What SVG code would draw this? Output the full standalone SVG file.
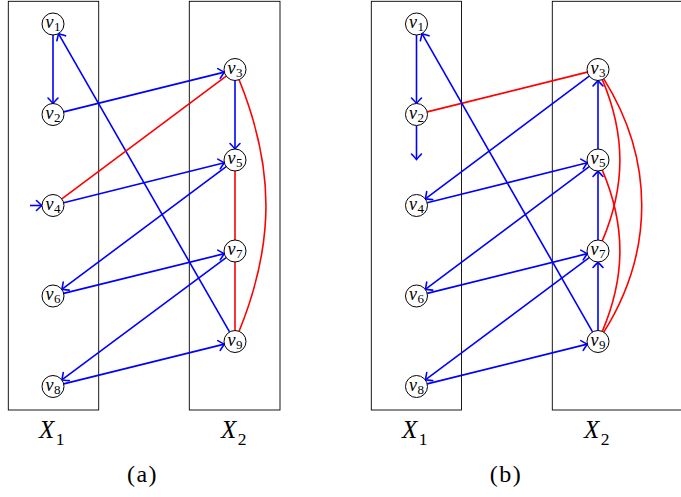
<svg xmlns="http://www.w3.org/2000/svg" width="681" height="497" viewBox="0 0 681 497">
<style>
.box{fill:none;stroke:#000;stroke-width:0.9}
.nd circle{fill:#fff;stroke:#000;stroke-width:1}
.nd text{font-family:"Liberation Serif",serif;font-style:italic;font-size:18px;text-anchor:middle;fill:#000}
.nd tspan{font-style:normal;font-size:13px}
.b{stroke:#00f;stroke-width:1.6;fill:none;marker-end:url(#ar)}
.r{stroke:#f00;stroke-width:1.6;fill:none}
.lbl{font-family:"Liberation Serif",serif;font-size:25px;font-style:italic;fill:#000}
.lbl tspan{font-style:normal;font-size:17.5px}
.cap{font-family:"Liberation Serif",serif;font-size:24px;text-anchor:middle;letter-spacing:1.5px;fill:#000}
</style>
<defs>
<marker id="ar" markerUnits="userSpaceOnUse" markerWidth="12" markerHeight="12" refX="0" refY="0" orient="auto" overflow="visible">
<path d="M-5.5,-5 Q-1.5,-1.2 0,0 Q-1.5,1.2 -5.5,5" fill="none" stroke="#00f" stroke-width="1.6" stroke-linecap="round"/>
</marker>
</defs>
<rect width="681" height="497" fill="#fff"/>
<g id="boxes">
<rect class="box" x="8.3" y="1.3" width="90.4" height="408.7"/>
<rect class="box" x="189.3" y="1.3" width="90.7" height="408.7"/>
<rect class="box" x="371.3" y="1.3" width="90.2" height="408.7"/>
<rect class="box" x="552.3" y="1.3" width="200" height="408.7"/>
</g>
<g id="labels">
<text class="lbl" x="39" y="438">X<tspan dx="1.5" dy="7">1</tspan></text>
<text class="lbl" x="221" y="438">X<tspan dx="1.5" dy="7">2</tspan></text>
<text class="lbl" x="402" y="438">X<tspan dx="1.5" dy="7">1</tspan></text>
<text class="lbl" x="584" y="438">X<tspan dx="1.5" dy="7">2</tspan></text>
<text class="cap" x="142.5" y="482">(a)</text>
<text class="cap" x="506" y="482">(b)</text>
</g>
<g id="connectors">
<path class="b" d="M53,35 L53,103.5"/>
<path class="b" d="M63.68,111.86 L224.32,72.14"/>
<path class="b" d="M229.53,331.96 L58.47,33.54"/>
<path class="b" d="M235,80.5 L235,149"/>
<path class="r" d="M61.81,198.92 L226.19,76.08"/>
<path class="b" d="M63.67,202.83 L224.33,162.67"/>
<path class="b" d="M226.19,166.58 L61.81,289.42"/>
<path class="r" d="M235,171 L235,240"/>
<path class="r" d="M239.1,79.7 C274.9,168.2 274.9,242.8 239.1,331.3"/>
<path class="b" d="M63.68,293.36 L224.32,253.64"/>
<path class="b" d="M226.18,257.57 L61.82,379.93"/>
<path class="r" d="M235,262 L235,330.5"/>
<path class="b" d="M63.68,383.86 L224.32,344.14"/>
<path class="b" d="M30,205.5 L42,205.5"/>
<path class="b" d="M416.5,35 L416.5,103.5"/>
<path class="b" d="M416.5,125.5 L416.5,159.5"/>
<path class="r" d="M427.18,111.85 L587.32,72.15"/>
<path class="b" d="M589.2,76.1 L425.3,198.9"/>
<path class="b" d="M427.17,202.82 L587.33,162.68"/>
<path class="b" d="M589.2,166.6 L425.3,289.4"/>
<path class="b" d="M427.18,293.35 L587.32,253.65"/>
<path class="b" d="M589.19,257.58 L425.31,379.92"/>
<path class="b" d="M427.18,383.85 L587.32,344.15"/>
<path class="b" d="M592.54,331.95 L421.96,33.55"/>
<path class="b" d="M598,149 L598,80.5"/>
<path class="b" d="M598,240 L598,171"/>
<path class="b" d="M598,330.5 L598,262"/>
<path class="r" d="M603.8,78.8 C654.4,159.8 654.4,251.2 603.8,332.2"/>
<path class="r" d="M602.3,79.6 C625.77,134.91 625.77,185.59 602.3,240.87"/>
<path class="r" d="M602.3,170.13 C625.77,225.41 625.77,276.09 602.3,331.37"/>
</g>
<g id="a-v1" class="nd"><circle cx="53" cy="24" r="11"/><text x="53" y="28">v<tspan dx="0.5" dy="3.2">1</tspan></text></g>
<g id="a-v2" class="nd"><circle cx="53" cy="114.5" r="11"/><text x="53" y="118.5">v<tspan dx="0.5" dy="3.2">2</tspan></text></g>
<g id="a-v3" class="nd"><circle cx="235" cy="69.5" r="11"/><text x="235" y="73.5">v<tspan dx="0.5" dy="3.2">3</tspan></text></g>
<g id="a-v4" class="nd"><circle cx="53" cy="205.5" r="11"/><text x="53" y="209.5">v<tspan dx="0.5" dy="3.2">4</tspan></text></g>
<g id="a-v5" class="nd"><circle cx="235" cy="160" r="11"/><text x="235" y="164">v<tspan dx="0.5" dy="3.2">5</tspan></text></g>
<g id="a-v6" class="nd"><circle cx="53" cy="296" r="11"/><text x="53" y="300">v<tspan dx="0.5" dy="3.2">6</tspan></text></g>
<g id="a-v7" class="nd"><circle cx="235" cy="251" r="11"/><text x="235" y="255">v<tspan dx="0.5" dy="3.2">7</tspan></text></g>
<g id="a-v8" class="nd"><circle cx="53" cy="386.5" r="11"/><text x="53" y="390.5">v<tspan dx="0.5" dy="3.2">8</tspan></text></g>
<g id="a-v9" class="nd"><circle cx="235" cy="341.5" r="11"/><text x="235" y="345.5">v<tspan dx="0.5" dy="3.2">9</tspan></text></g>
<g id="b-v1" class="nd"><circle cx="416.5" cy="24" r="11"/><text x="416.5" y="28">v<tspan dx="0.5" dy="3.2">1</tspan></text></g>
<g id="b-v2" class="nd"><circle cx="416.5" cy="114.5" r="11"/><text x="416.5" y="118.5">v<tspan dx="0.5" dy="3.2">2</tspan></text></g>
<g id="b-v3" class="nd"><circle cx="598" cy="69.5" r="11"/><text x="598" y="73.5">v<tspan dx="0.5" dy="3.2">3</tspan></text></g>
<g id="b-v4" class="nd"><circle cx="416.5" cy="205.5" r="11"/><text x="416.5" y="209.5">v<tspan dx="0.5" dy="3.2">4</tspan></text></g>
<g id="b-v5" class="nd"><circle cx="598" cy="160" r="11"/><text x="598" y="164">v<tspan dx="0.5" dy="3.2">5</tspan></text></g>
<g id="b-v6" class="nd"><circle cx="416.5" cy="296" r="11"/><text x="416.5" y="300">v<tspan dx="0.5" dy="3.2">6</tspan></text></g>
<g id="b-v7" class="nd"><circle cx="598" cy="251" r="11"/><text x="598" y="255">v<tspan dx="0.5" dy="3.2">7</tspan></text></g>
<g id="b-v8" class="nd"><circle cx="416.5" cy="386.5" r="11"/><text x="416.5" y="390.5">v<tspan dx="0.5" dy="3.2">8</tspan></text></g>
<g id="b-v9" class="nd"><circle cx="598" cy="341.5" r="11"/><text x="598" y="345.5">v<tspan dx="0.5" dy="3.2">9</tspan></text></g>
</svg>
